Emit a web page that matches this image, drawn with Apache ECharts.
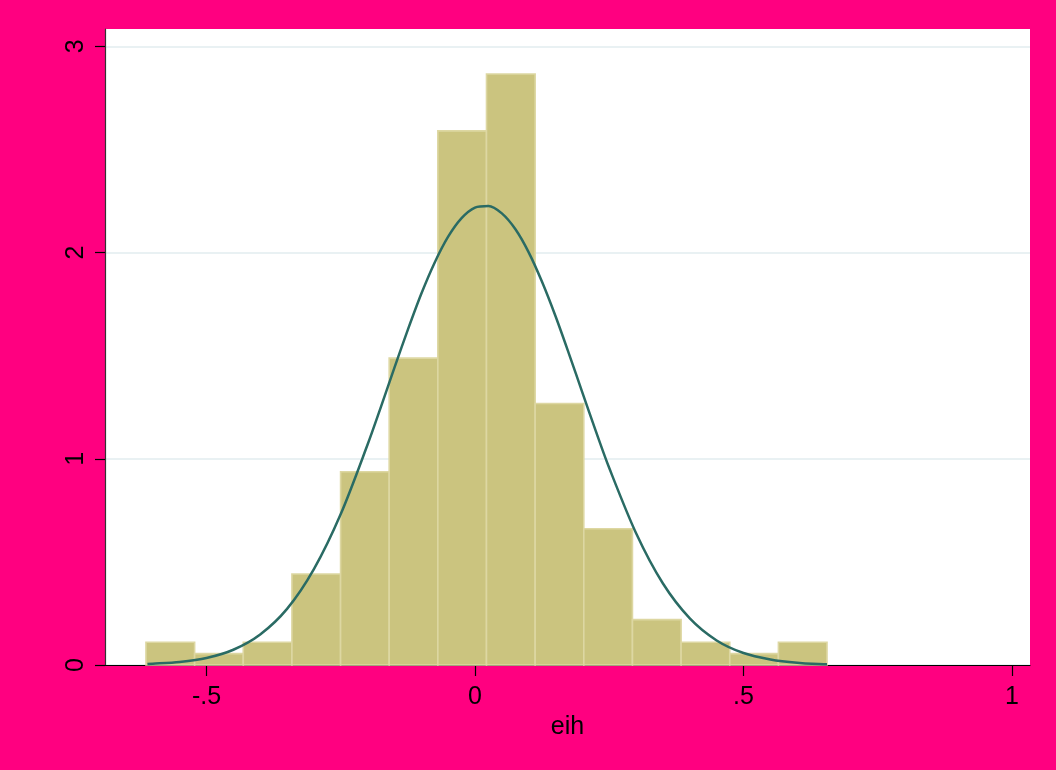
<!DOCTYPE html>
<html>
<head>
<meta charset="utf-8">
<script src="https://cdn.jsdelivr.net/npm/echarts@6/dist/echarts.min.js"></script>
<style>
html,body{margin:0;padding:0;background:#FF0080;}
#chart{width:1056px;height:770px;}
</style>
</head>
<body>
<div id="chart"></div>
<script>
// Histogram bin edges (eih) and densities
const binEdges = [-0.6127, -0.5221, -0.4315, -0.3409, -0.2503, -0.1598, -0.0692,
                  0.0214, 0.1120, 0.2026, 0.2932, 0.3838, 0.4744, 0.5650, 0.6555];
const densities = [0.110, 0.055, 0.110, 0.441, 0.937, 1.488, 2.590,
                   2.866, 1.268, 0.661, 0.220, 0.110, 0.055, 0.110];
// Normal density overlay
const curveX = [-0.61, -0.60, -0.55, -0.50, -0.45, -0.40, -0.35, -0.30, -0.25,
                -0.200, -0.175, -0.150, -0.125, -0.100, -0.075, -0.050, -0.025, 0.000,
                0.025, 0.050, 0.075, 0.100, 0.125, 0.150, 0.175, 0.200, 0.225, 0.250,
                0.30, 0.35, 0.40, 0.45, 0.50, 0.55, 0.60, 0.65, 0.6555];
const curveY = [0.005, 0.006, 0.015, 0.034, 0.074, 0.148, 0.272, 0.465, 0.732,
                1.069, 1.253, 1.442, 1.626, 1.800, 1.952, 2.077, 2.167, 2.218,
                2.226, 2.190, 2.114, 2.001, 1.857, 1.691, 1.509, 1.321, 1.134, 0.955,
                0.639, 0.395, 0.226, 0.119, 0.058, 0.027, 0.011, 0.004, 0.004];
const xTicks = [-0.5, 0, 0.5, 1];
const xTickLabels = ['-.5', '0', '.5', '1'];
const yTicks = [0, 1, 2, 3];
const yTickLabels = ['0', '1', '2', '3'];
const xTitle = 'eih';

const histData = densities.map((d, i) => [binEdges[i], binEdges[i + 1], d]);
const curveData = curveX.map((x, i) => [x, curveY[i]]);

const chart = echarts.init(document.getElementById('chart'));
const font = 'Liberation Sans, Arial, sans-serif';
chart.setOption({
  animation: false,
  backgroundColor: '#FF0080',
  grid: {left: 105, right: 26, top: 29, bottom: 105, show: true,
         backgroundColor: '#ffffff', borderWidth: 0},
  xAxis: {
    type: 'value', min: -0.689, max: 1.0335,
    name: xTitle, nameLocation: 'middle', nameGap: 46,
    nameTextStyle: {color: '#000', fontSize: 25, fontFamily: font},
    axisLine: {show: true, onZero: false, lineStyle: {color: '#000', width: 1.2}},
    axisTick: {show: true, length: 11, customValues: xTicks, lineStyle: {color: '#000', width: 1.2}},
    axisLabel: {customValues: xTicks, margin: 20, color: '#000', fontSize: 25, fontFamily: font,
                formatter: v => xTickLabels[xTicks.indexOf(v)] ?? ''},
    splitLine: {show: false}
  },
  yAxis: {
    type: 'value', min: 0, max: 3.084,
    axisLine: {show: true, onZero: false, lineStyle: {color: '#333', width: 1.2}},
    axisTick: {show: true, length: 10, customValues: yTicks, lineStyle: {color: '#000', width: 1.2}},
    axisLabel: {customValues: yTicks, rotate: 90, margin: 16, color: '#000', fontSize: 25, fontFamily: font,
                formatter: v => yTickLabels[yTicks.indexOf(v)] ?? ''},
    splitLine: {show: true, lineStyle: {color: '#e9f1f3', width: 2}}
  },
  series: [
    {
      type: 'custom', z: 2, data: histData,
      encode: {x: [0, 1], y: 2},
      renderItem: function (params, api) {
        const p0 = api.coord([api.value(0), api.value(2)]);
        const p1 = api.coord([api.value(1), 0]);
        return {type: 'rect',
          shape: {x: p0[0], y: p0[1], width: p1[0] - p0[0], height: p1[1] - p0[1]},
          style: {fill: '#cbc47f', stroke: '#ddd7a2', lineWidth: 1.6}};
      }
    },
    {
      type: 'line', z: 3, data: curveData, smooth: 0.3, showSymbol: false,
      lineStyle: {color: '#2a6b64', width: 2.5}
    }
  ]
});
</script>
</body>
</html>
